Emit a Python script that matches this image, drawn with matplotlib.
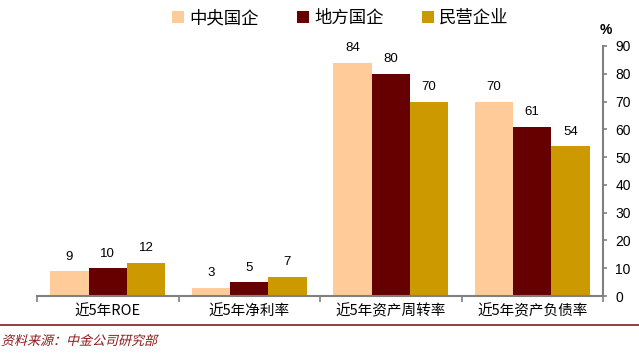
import matplotlib.pyplot as plt
import numpy as np
from matplotlib.textpath import TextPath
from matplotlib.patches import PathPatch
from matplotlib.font_manager import FontProperties
from matplotlib.transforms import Affine2D, IdentityTransform

plt.rcParams['font.family'] = ['Noto Sans CJK SC', 'DejaVu Sans']

categories = ['近5年ROE', '近5年净利率', '近5年资产周转率', '近5年资产负债率']
series_names = ['中央国企', '地方国企', '民营企业']
central_soe = [9, 3, 84, 70]
local_soe = [10, 5, 80, 61]
private = [12, 7, 70, 54]
colors = ['#FFCC99', '#660000', '#CC9900']

fig = plt.figure(figsize=(6.39, 3.54), dpi=100)
ax = fig.add_axes([37 / 639, 1 - 296 / 354, 566 / 639, 250 / 354])

x = np.arange(len(categories))
w = 0.27
for i, (vals, name) in enumerate(zip([central_soe, local_soe, private], series_names)):
    pos = x + (i - 1) * w
    ax.bar(pos, vals, w, color=colors[i], label=name)
    for p, v in zip(pos, vals):
        ax.text(p, v + 3, str(v), ha='center', va='bottom', fontsize=9.5,
                family=['Liberation Sans', 'DejaVu Sans'])

ax.set_xlim(-0.5, 3.5)
ax.set_ylim(0, 90)
ax.yaxis.tick_right()
ax.set_yticks(range(0, 91, 10))
for s in ['left', 'top']:
    ax.spines[s].set_visible(False)
for s in ['right', 'bottom']:
    ax.spines[s].set_color('#808080')
    ax.spines[s].set_linewidth(1.5)
ax.tick_params(axis='y', direction='out', length=3, color='#808080', width=1.2,
               labelsize=10, pad=6)
for lab in ax.get_yticklabels():
    lab.set_family(['Liberation Sans', 'DejaVu Sans'])

ax.set_xticks(np.arange(-0.5, 3.6, 1))
ax.set_xticklabels([])
ax.set_xticks(x, minor=True)
ax.set_xticklabels(categories, minor=True, fontsize=10.5)
ax.tick_params(axis='x', which='major', direction='out', length=4, color='#808080', width=1.2)
ax.tick_params(axis='x', which='minor', length=0, pad=6)

fig.text(606 / 639, 1 - 30 / 354, '%', ha='center', va='center', fontsize=10,
         fontweight='bold', family=['Liberation Sans', 'DejaVu Sans'])

fig.legend(loc='center', bbox_to_anchor=(340 / 639, 1 - 18 / 354), ncol=3,
           frameon=False, fontsize=12.5, handlelength=0.7, handleheight=0.7,
           handletextpad=0.3, columnspacing=2.2)

fig.add_artist(plt.Line2D([0, 1], [1 - 325 / 354] * 2, color='#8B1A1A', linewidth=1.2,
                          transform=fig.transFigure))

# source note, slanted to imitate italic (CJK font has no italic face)
src = TextPath((0, 0), '资料来源：中金公司研究部', size=13,
               prop=FontProperties(family='Noto Sans CJK SC'))
src_tr = Affine2D().skew_deg(14, 0).translate(1, 354 - 345) + IdentityTransform()
fig.add_artist(PathPatch(src, transform=src_tr, color='#8B1A1A', lw=0))

fig.savefig('out.png', dpi=100)
